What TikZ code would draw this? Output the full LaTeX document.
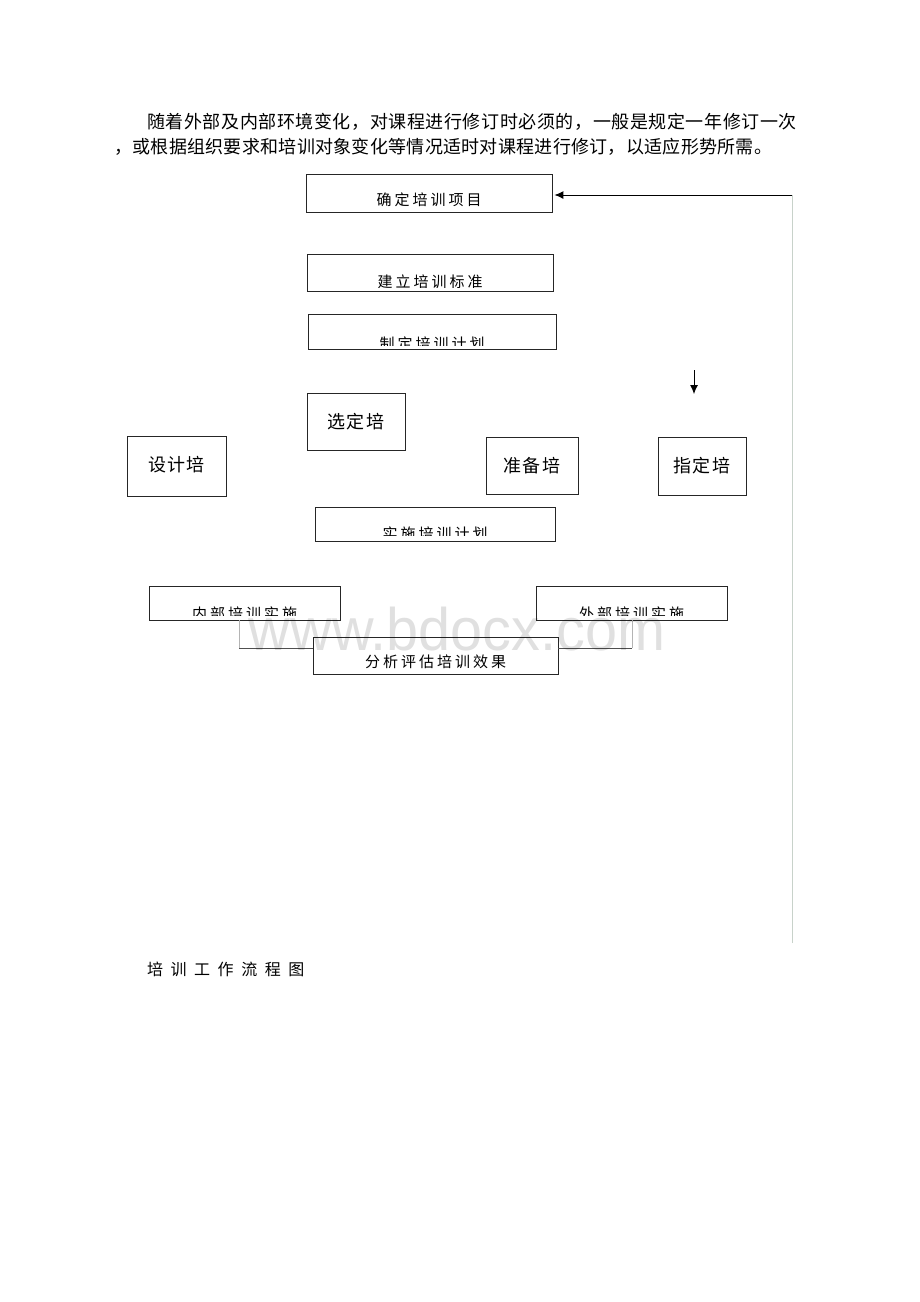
\documentclass[tikz,border=0pt]{standalone}
\usepackage{fontspec}
\newfontfamily\cjk[LetterSpace=1.6]{Noto Sans CJK SC}
\newfontfamily\cjkpara[LetterSpace=3.2]{Noto Sans CJK SC}
\newfontfamily\cjkloose[LetterSpace=6]{Noto Sans CJK SC}
\newfontfamily\cjkbox[LetterSpace=20]{Noto Sans CJK SC}
\newfontfamily\cjkcap[LetterSpace=47]{Noto Sans CJK SC}
\newfontfamily\markfont{Liberation Sans}
\usetikzlibrary{arrows.meta}
\definecolor{rail}{HTML}{C8D2CA}
\definecolor{linkgray}{HTML}{B4B4B4}
\definecolor{linkdark}{HTML}{505050}
\newcommand\cutlabel[4]{%
  \begin{scope}
    \clip (#1.north west) rectangle (#1.east |- 0,#3);
    \node[boxtext] (#1-t) at (#1.center |- 0,#2) {#4};
  \end{scope}}

\begin{document}
\begin{tikzpicture}[x=1pt,y=-1pt,
  box/.style={draw=black!85,line width=0.9pt,fill=white,inner sep=0pt},
  boxtext/.style={font=\cjkbox\fontsize{15}{15}\selectfont,inner sep=0pt,anchor=base},
  shorttext/.style={font=\cjkloose\fontsize{18}{18}\selectfont,inner sep=0pt,anchor=base},
  para/.style={inner sep=0pt,anchor=base west},
  arrow/.style={line width=1pt,-{Latex[length=9pt,width=8pt]}}]
\fill[white] (0,0) rectangle (920,1302);
\useasboundingbox (0,0) rectangle (920,1302);
\node[para,font=\cjkpara\fontsize{18}{18}\selectfont] (line1) at (147,128.5) {随着外部及内部环境变化，对课程进行修订时必须的，一般是规定一年修订一次};
\node[para,font=\cjk\fontsize{18}{18}\selectfont] (line2) at (114,153.5) {，或根据组织要求和培训对象变化等情况适时对课程进行修订，以适应形势所需。};
\node[box,minimum width=246pt,minimum height=38pt] (xiangmu) at (429,193) {};
\node[box,minimum width=246pt,minimum height=37pt] (biaozhun) at (430,272.5) {};
\node[box,minimum width=248pt,minimum height=35pt] (jihua) at (432,331.5) {};
\node[box,minimum width=98pt,minimum height=57pt] (xuanding) at (356,421.5) {};
\node[box,minimum width=99pt,minimum height=60pt] (sheji) at (176.5,466) {};
\node[box,minimum width=92pt,minimum height=57pt] (zhunbei) at (532,465.5) {};
\node[box,minimum width=88pt,minimum height=58pt] (zhiding) at (702,466) {};
\node[box,minimum width=240pt,minimum height=34pt] (shishi) at (435,524) {};
\node[box,minimum width=191pt,minimum height=34pt] (neibu) at (244.5,603) {};
\node[box,minimum width=191pt,minimum height=34pt] (waibu) at (631.5,603) {};
\node[box,minimum width=245pt,minimum height=37pt] (fenxi) at (435.5,655.5) {};
\cutlabel{xiangmu}{205.5}{206}{确定培训项目}
\cutlabel{biaozhun}{287.5}{287}{建立培训标准}
\cutlabel{jihua}{349.5}{345}{制定培训计划}
\cutlabel{shishi}{539.5}{535}{实施培训计划}
\cutlabel{neibu}{619.5}{615}{内部培训实施}
\cutlabel{waibu}{619.5}{615}{外部培训实施}
\cutlabel{fenxi}{667.5}{670}{分析评估培训效果}
\node[shorttext] (xuanding-t) at (xuanding.center |- 0,428.8) {选定培};
\node[shorttext] (sheji-t) at (sheji.center |- 0,471.8) {设计培};
\node[shorttext] (zhunbei-t) at (zhunbei.center |- 0,472.3) {准备培};
\node[shorttext] (zhiding-t) at (zhiding.center |- 0,472.8) {指定培};
\coordinate (rail top) at (792,195);
\coordinate (rail end) at (792,943);
\draw[rail,line width=1pt] (rail end) -- (rail top);
\draw[arrow,shorten >=2pt] (rail top) -- (xiangmu.east |- rail top);
\coordinate (pick from) at (694,370);
\coordinate (pick to) at (694,394);
\draw[arrow,line width=0.9pt] (pick from) -- (pick to);
\coordinate (neibu bend) at (239,648);
\coordinate (waibu bend) at (632,648);
\draw[linkgray,line width=1pt] (neibu.south -| neibu bend) -- (neibu bend);
\draw[linkdark,line width=1pt] (neibu bend) -- (fenxi.west |- neibu bend);
\draw[linkgray,line width=1pt] (waibu.south -| waibu bend) -- (waibu bend);
\draw[linkdark,line width=1pt] (waibu bend) -- (fenxi.east |- waibu bend);
\node[font=\markfont\fontsize{60}{60}\selectfont,text=black,text opacity=0.12,inner sep=0pt,anchor=base,xscale=0.96] (mark) at (457,650) {www.bdocx.com};
\node[para,font=\cjkcap\fontsize{16}{16}\selectfont] (caption) at (147,975.3) {培训工作流程图};
\end{tikzpicture}
\end{document}
